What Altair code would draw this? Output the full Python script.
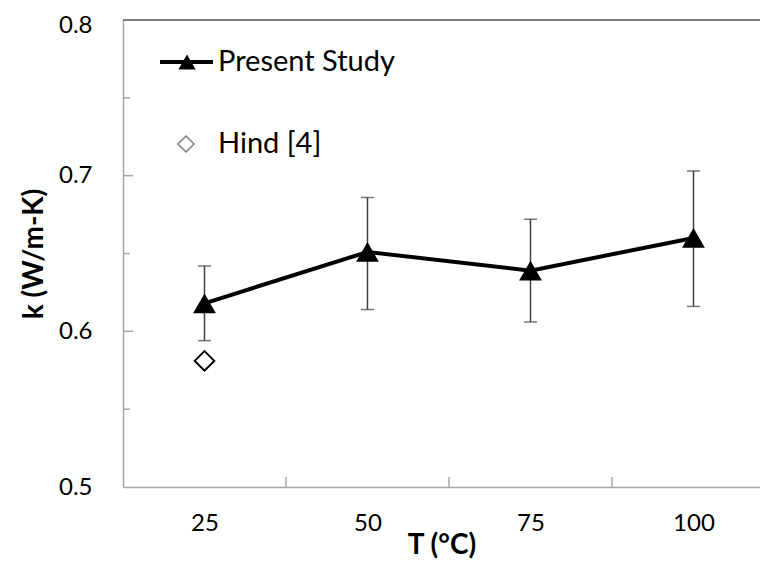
import altair as alt
import pandas as pd

# ---- data ----
temps = [25, 50, 75, 100]
k_present = [0.618, 0.651, 0.639, 0.660]
k_low = [0.594, 0.614, 0.606, 0.616]
k_high = [0.642, 0.686, 0.672, 0.703]
hind_T = [25]
hind_k = [0.581]
series_names = ["Present Study", "Hind [4]"]

# axis tick positions
y_labels = [0.5, 0.6, 0.7, 0.8]
y_major_ticks = [0.6, 0.7]
y_minor_ticks = [0.55, 0.65, 0.75]
x_ticks = [37.5, 62.5, 87.5]

FONT = "Lato"
W, H = 637, 467
AXIS_GRAY = "#a6a6a6"

present = pd.DataFrame({"T": temps, "k": k_present, "lo": k_low, "hi": k_high})
hind = pd.DataFrame({"T": hind_T, "k": hind_k})

xs = alt.Scale(domain=[12.5, 110.2], nice=False, zero=False)
ys = alt.Scale(domain=[0.5, 0.8], nice=False, zero=False)

xaxis = alt.Axis(values=temps, format="d", ticks=False, grid=False,
                 domainColor=AXIS_GRAY, domainWidth=1.5,
                 labelFontSize=24, labelPadding=24, labelColor="black", labelFont=FONT,
                 labelOverlap=False,
                 title="T (°C)", titleFont=FONT, titleFontSize=28, titleFontWeight="bold",
                 titleColor="black", titlePadding=-4)
yaxis = alt.Axis(values=y_labels, format=".1f", ticks=False, grid=False,
                 domainColor=AXIS_GRAY, domainWidth=1.5,
                 labelFontSize=24, labelPadding=31, labelColor="black", labelFont=FONT,
                 labelOverlap=False,
                 labelOffset={"condition": {"test": "datum.value > 0.75", "value": 5}, "value": 0},
                 title="k (W/m-K)", titleFont=FONT, titleFontSize=28, titleFontWeight="bold",
                 titleColor="black", titlePadding=10)


def X(field):
    return alt.X(field, type="quantitative", scale=xs, axis=xaxis)


def Y(field):
    return alt.Y(field, type="quantitative", scale=ys, axis=yaxis)


# top border line at 0.8
top_line = alt.Chart(pd.DataFrame({"k": [0.8]})).mark_rule(
    color="#595959", strokeWidth=1.5).encode(y=Y("k"))

# inward ticks
ymaj = alt.Chart(pd.DataFrame({"k": y_major_ticks})).mark_rule(
    color=AXIS_GRAY, strokeWidth=1.5).encode(y=Y("k"), x=alt.value(0), x2=alt.value(10))
ymin = alt.Chart(pd.DataFrame({"k": y_minor_ticks})).mark_rule(
    color=AXIS_GRAY, strokeWidth=1.5).encode(y=Y("k"), x=alt.value(0), x2=alt.value(7))
xtk = alt.Chart(pd.DataFrame({"T": x_ticks})).mark_rule(
    color=AXIS_GRAY, strokeWidth=1.5).encode(x=X("T"), y=alt.value(H), y2=alt.value(H - 10))

# error bars
err = alt.Chart(present).mark_rule(color="#404040", strokeWidth=1.5).encode(
    x=X("T"), y=Y("lo"), y2="hi")
cap_lo = alt.Chart(present).mark_tick(color="#404040", thickness=1.5, size=13,
                                      orient="horizontal").encode(x=X("T"), y=Y("lo"))
cap_hi = alt.Chart(present).mark_tick(color="#404040", thickness=1.5, size=13,
                                      orient="horizontal").encode(x=X("T"), y=Y("hi"))

line = alt.Chart(present).mark_line(color="black", strokeWidth=4).encode(x=X("T"), y=Y("k"))
tri = alt.Chart(present).mark_point(shape="triangle-up", filled=True, color="black",
                                    size=520, opacity=1).encode(x=X("T"), y=Y("k"))
dia = alt.Chart(hind).mark_point(shape="diamond", filled=False, color="black",
                                 strokeWidth=2, size=380, opacity=1).encode(x=X("T"), y=Y("k"))

# legend (drawn inside the plot, like the original)
one = pd.DataFrame({"a": [0]})
leg_line = alt.Chart(one).mark_rule(color="black", strokeWidth=4).encode(
    x=alt.value(37), x2=alt.value(90), y=alt.value(42))
leg_tri = alt.Chart(one).mark_point(shape="triangle-up", filled=True, color="black",
                                    size=300, opacity=1).encode(x=alt.value(64), y=alt.value(42))
leg_dia = alt.Chart(one).mark_point(shape="diamond", filled=False, color="#7f7f7f",
                                    strokeWidth=1.5, size=260, opacity=1).encode(
    x=alt.value(63), y=alt.value(124))
leg_txt1 = alt.Chart(one).mark_text(align="left", baseline="middle", font=FONT,
                                    fontSize=29, color="black").encode(
    x=alt.value(95), y=alt.value(42), text=alt.value(series_names[0]))
leg_txt2 = alt.Chart(one).mark_text(align="left", baseline="middle", font=FONT,
                                    fontSize=29, color="black").encode(
    x=alt.value(95), y=alt.value(124), text=alt.value(series_names[1]))

chart = alt.layer(
    top_line, ymaj, ymin, xtk, err, cap_lo, cap_hi, line, tri, dia,
    leg_line, leg_tri, leg_dia, leg_txt1, leg_txt2,
).properties(
    width=W, height=H,
    autosize=alt.AutoSizeParams(type="none"),
    padding={"left": 115, "top": 12, "right": 0, "bottom": 74},
).configure_view(strokeWidth=0).configure(font=FONT)

chart.save("out.html", embed_options={"renderer": "svg", "actions": False})
